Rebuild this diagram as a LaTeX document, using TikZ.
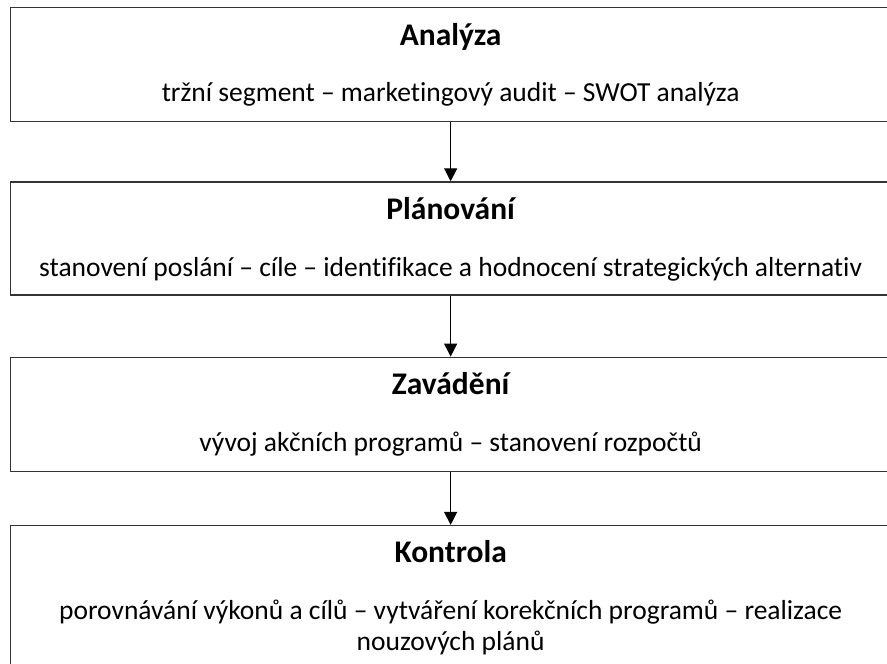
\documentclass[tikz,border=0pt]{standalone}
\usepackage{fontspec}
\setmainfont{Carlito}[Ligatures=NoCommon]
\usetikzlibrary{positioning,arrows.meta}
\tikzset{
  stage/.style={draw=black!80, line width=1.3pt, minimum width=880pt, inner sep=0pt},
  heading/.style={font=\fontsize{31.5}{37}\selectfont\bfseries, anchor=base, inner sep=0pt},
  detail/.style={font=\fontsize{27.5}{30.5}\selectfont, anchor=base, inner sep=0pt, align=center},
  flow/.style={-{Triangle[width=13pt,length=13pt]}, line width=1.2pt},
}

\begin{document}
\begin{tikzpicture}
		\clip (0,0) rectangle (887pt,-664pt);
		\node[stage, minimum height=114pt, anchor=north west] (analyza) at (10pt,-7pt) {};
		\node[stage, minimum height=113pt, below=59pt of analyza] (planovani) {};
		\node[stage, minimum height=114pt, below=61pt of planovani] (zavadeni) {};
		\node[stage, minimum height=160pt, below=53pt of zavadeni] (kontrola) {};
		
		\node[heading] (h1) at ([yshift=-38pt]analyza.north) {Analýza};
		\node[detail] (d1) at ([yshift=-94pt]analyza.north) {tržní segment – marketingový audit – SWOT analýza};
		
		\node[heading] (h2) at ([yshift=-38pt]planovani.north) {Plánování};
		\node[detail] (d2) at ([yshift=-95pt]planovani.north) {stanovení poslání – cíle – identifikace a hodnocení strategických alternativ};
		
		\node[heading] (h3) at ([yshift=-38pt]zavadeni.north) {Zavádění};
		\node[detail] (d3) at ([yshift=-95pt]zavadeni.north) {vývoj akčních programů – stanovení rozpočtů};
		
		\node[heading] (h4) at ([yshift=-38pt]kontrola.north) {Kontrola};
		\node[detail, anchor=north] (d4) at ([yshift=-75pt]kontrola.north) {porovnávání výkonů a cílů – vytváření korekčních programů – realizace\\nouzových plánů};
		
		\draw[flow] (analyza) -- (planovani);
		\draw[flow] (planovani) -- (zavadeni);
		\draw[flow] (zavadeni) -- (kontrola);
		
\end{tikzpicture}
\end{document}
